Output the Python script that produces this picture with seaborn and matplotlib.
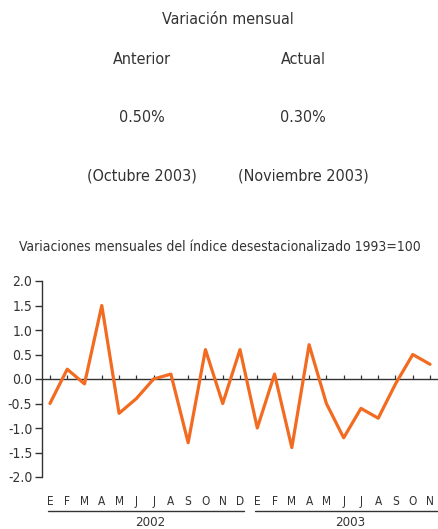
import seaborn as sns
import pandas as pd
import matplotlib.pyplot as plt
import matplotlib.transforms as mtransforms

sns.set_style("white")
plt.rcParams['font.family'] = ['DejaVu Sans']
plt.rcParams['font.stretch'] = 'condensed'

months = ["E", "F", "M", "A", "M", "J", "J", "A", "S", "O", "N", "D",
          "E", "F", "M", "A", "M", "J", "J", "A", "S", "O", "N"]
values = [-0.5, 0.2, -0.1, 1.5, -0.7, -0.4, 0.0, 0.1, -1.3, 0.6, -0.5, 0.6,
          -1.0, 0.1, -1.4, 0.7, -0.5, -1.2, -0.6, -0.8, -0.1, 0.5, 0.3]
years = ["2002", "2003"]
yticks = [2.0, 1.5, 1.0, 0.5, 0.0, -0.5, -1.0, -1.5, -2.0]

df = pd.DataFrame({"pos": range(len(values)), "valor": values})
orange = "#F26B21"
dark = "#333333"

fig = plt.figure(figsize=(4.38, 5.29), dpi=100)

# header texts
fig.text(0.52, 1 - 20 / 529, "Variación mensual", ha="center", va="center", fontsize=11.5, color=dark)
fig.text(142 / 438, 1 - 59 / 529, "Anterior", ha="center", va="center", fontsize=11.5, color=dark)
fig.text(303 / 438, 1 - 59 / 529, "Actual", ha="center", va="center", fontsize=11.5, color=dark)
fig.text(142 / 438, 1 - 118 / 529, "0.50%", ha="center", va="center", fontsize=11.5, color=dark)
fig.text(303 / 438, 1 - 118 / 529, "0.30%", ha="center", va="center", fontsize=11.5, color=dark)
fig.text(142 / 438, 1 - 176 / 529, "(Octubre 2003)", ha="center", va="center", fontsize=11.5, color=dark)
fig.text(303 / 438, 1 - 176 / 529, "(Noviembre 2003)", ha="center", va="center", fontsize=11.5, color=dark)
fig.text(220 / 438, 1 - 247 / 529, "Variaciones mensuales del índice desestacionalizado 1993=100",
         ha="center", va="center", fontsize=10, color=dark)

ax = fig.add_axes([42 / 438, 52 / 529, 396 / 438, 196 / 529])
sns.lineplot(data=df, x="pos", y="valor", color=orange, linewidth=2.3, ax=ax)

ax.set_xlim(-0.46, 22.46)
ax.set_ylim(-2.0, 2.0)
ax.set_yticks(yticks)
ax.set_yticklabels([f"{v:.1f}" for v in yticks], fontsize=10, color=dark)
ax.set_xticks(range(len(months)))
ax.set_xticklabels(months, fontsize=8.5, color=dark)
ax.tick_params(axis="x", length=0, pad=13)
ax.tick_params(axis="y", direction="out", length=5, width=1, color=dark, left=True, pad=2)
ax.set_xlabel("")
ax.set_ylabel("")

for s in ["top", "right", "bottom"]:
    ax.spines[s].set_visible(False)
ax.spines["left"].set_color(dark)
ax.spines["left"].set_linewidth(1)

# zero line with month ticks
ax.axhline(0, color=dark, linewidth=1, zorder=1)
ax.vlines(df["pos"], 0, 0.08, color=dark, linewidth=0.9, zorder=1)

# year brackets under month labels
trans = mtransforms.blended_transform_factory(ax.transData, ax.transAxes)
spans = [(-0.1, 11.23), (11.87, 22.5)]
label_x = [5.8, 17.4]
for (a, b), yr, lx in zip(spans, years, label_x):
    ax.plot([a, b], [-0.175, -0.175], color=dark, linewidth=1, transform=trans, clip_on=False)
    ax.text(lx, -0.23, yr, transform=trans, ha="center", va="center", fontsize=9.5, color=dark)

fig.savefig("out.png", dpi=100)
